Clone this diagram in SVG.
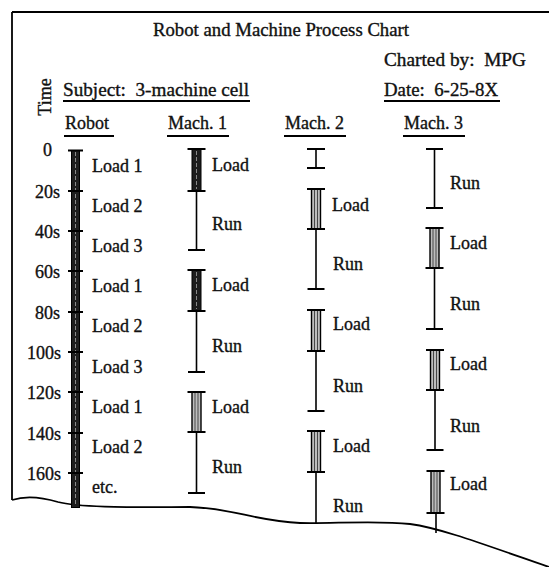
<svg xmlns="http://www.w3.org/2000/svg" width="549" height="567" viewBox="0 0 549 567">
<style>
.t{font-family:"Liberation Serif","Times New Roman",serif;font-size:18px;fill:#111;stroke:#111;stroke-width:0.35}
.ul{stroke:#000;stroke-width:2}
.frame{fill:none;stroke:#000;stroke-width:1.8}
.cap{stroke:#000;stroke-width:2}
.run{stroke:#000;stroke-width:1.6}
.dark{fill:#1e1e1e;stroke:#000;stroke-width:1}
.hat{fill:#bdbdbd;stroke:#000;stroke-width:1.4}
.hl{stroke:#3a3a3a;stroke-width:0.9}
.cl{stroke:#8a8a8a;stroke-width:1;stroke-dasharray:4 2}
</style>
<rect width="549" height="567" fill="#fff"/>
<g id="frame">
<line class="frame" x1="12" y1="12" x2="549" y2="12"/>
<line class="frame" x1="12" y1="12" x2="12" y2="500"/>
<path class="frame" stroke-width="2.2" d="M12,500 C24,496 38,496 58,502 C80,508 140,507 190,507 C232,508 255,521 300,523 C330,524 375,520 410,524 C440,528 480,543 549,567"/>
</g>
<g id="header">
<text class="t" x="153" y="36" font-size="19" textLength="256" lengthAdjust="spacingAndGlyphs">Robot and Machine Process Chart</text>
<text class="t" x="384" y="66" xml:space="preserve" textLength="142" lengthAdjust="spacingAndGlyphs">Charted by:  MPG</text>
<text class="t" x="63" y="96" xml:space="preserve" textLength="186" lengthAdjust="spacingAndGlyphs">Subject:  3-machine cell</text>
<line class="ul" x1="63" y1="101" x2="250" y2="101"/>
<text class="t" x="384" y="96" xml:space="preserve" textLength="114" lengthAdjust="spacingAndGlyphs">Date:  6-25-8X</text>
<line class="ul" x1="384" y1="101" x2="500" y2="101"/>
<text class="t" transform="translate(51,97) rotate(-90)" text-anchor="middle">Time</text>
<text class="t" x="65" y="129">Robot</text>
<line class="ul" x1="64" y1="136" x2="114" y2="136"/>
<text class="t" x="168" y="129">Mach. 1</text>
<line class="ul" x1="167" y1="136" x2="229" y2="136"/>
<text class="t" x="285" y="129">Mach. 2</text>
<line class="ul" x1="284" y1="136" x2="346" y2="136"/>
<text class="t" x="404" y="129">Mach. 3</text>
<line class="ul" x1="403" y1="136" x2="465" y2="136"/>
</g>
<g id="time-axis">
<text class="t" x="43" y="156">0</text>
<text class="t" x="60" y="197.5" text-anchor="end">20s</text>
<text class="t" x="60" y="237.5" text-anchor="end">40s</text>
<text class="t" x="60" y="277.5" text-anchor="end">60s</text>
<text class="t" x="60" y="318.5" text-anchor="end">80s</text>
<text class="t" x="61" y="358.5" text-anchor="end">100s</text>
<text class="t" x="61" y="398.5" text-anchor="end">120s</text>
<text class="t" x="61" y="439.5" text-anchor="end">140s</text>
<text class="t" x="61" y="479.5" text-anchor="end">160s</text>
</g>
<g id="robot">
<rect class="dark" x="71.5" y="150.5" width="8" height="357"/>
<line class="cl" x1="75.5" y1="152" x2="75.5" y2="506"/>
<line class="cap" x1="68" y1="150.5" x2="83" y2="150.5"/>
<line class="cap" x1="68" y1="191" x2="83" y2="191"/>
<line class="cap" x1="68" y1="231" x2="83" y2="231"/>
<line class="cap" x1="68" y1="271" x2="83" y2="271"/>
<line class="cap" x1="68" y1="312" x2="83" y2="312"/>
<line class="cap" x1="68" y1="352" x2="83" y2="352"/>
<line class="cap" x1="68" y1="392" x2="83" y2="392"/>
<line class="cap" x1="68" y1="433" x2="83" y2="433"/>
<line class="cap" x1="68" y1="473" x2="83" y2="473"/>
<text class="t" x="92" y="172">Load 1</text>
<text class="t" x="92" y="212">Load 2</text>
<text class="t" x="92" y="252">Load 3</text>
<text class="t" x="92" y="292">Load 1</text>
<text class="t" x="92" y="332">Load 2</text>
<text class="t" x="92" y="373">Load 3</text>
<text class="t" x="92" y="413">Load 1</text>
<text class="t" x="92" y="453">Load 2</text>
<text class="t" x="92" y="493">etc.</text>
</g>
<g id="mach1">
<rect class="dark" x="192" y="149" width="9" height="42"/>
<line class="cl" x1="196.5" y1="151" x2="196.5" y2="189"/>
<line class="cap" x1="187.5" y1="149" x2="205.5" y2="149"/>
<line class="cap" x1="187.5" y1="191" x2="205.5" y2="191"/>
<line class="run" x1="196.5" y1="191" x2="196.5" y2="250"/>
<line class="cap" x1="188" y1="250" x2="205" y2="250"/>
<rect class="dark" x="192" y="270" width="9" height="41"/>
<line class="cl" x1="196.5" y1="272" x2="196.5" y2="309"/>
<line class="cap" x1="187.5" y1="270" x2="205.5" y2="270"/>
<line class="cap" x1="187.5" y1="311" x2="205.5" y2="311"/>
<line class="run" x1="196.5" y1="311" x2="196.5" y2="372"/>
<line class="cap" x1="188" y1="372" x2="205" y2="372"/>
<rect class="hat" x="192" y="392" width="9" height="40"/>
<line class="hl" x1="195" y1="392" x2="195" y2="432"/>
<line class="hl" x1="198" y1="392" x2="198" y2="432"/>
<line class="cap" x1="187.5" y1="392" x2="205.5" y2="392"/>
<line class="cap" x1="187.5" y1="432" x2="205.5" y2="432"/>
<line class="run" x1="196.5" y1="432" x2="196.5" y2="493"/>
<line class="cap" x1="188" y1="493" x2="205" y2="493"/>
<text class="t" x="212" y="171">Load</text>
<text class="t" x="212" y="230">Run</text>
<text class="t" x="212" y="291">Load</text>
<text class="t" x="212" y="352">Run</text>
<text class="t" x="212" y="413">Load</text>
<text class="t" x="212" y="473">Run</text>
</g>
<g id="mach2">
<line class="cap" x1="307" y1="149" x2="325" y2="149"/>
<line class="run" x1="316" y1="149" x2="316" y2="168"/>
<line class="cap" x1="307" y1="168" x2="325" y2="168"/>
<rect class="hat" x="311.5" y="189" width="9" height="40"/>
<line class="hl" x1="314.5" y1="189" x2="314.5" y2="229"/>
<line class="hl" x1="317.5" y1="189" x2="317.5" y2="229"/>
<line class="cap" x1="307" y1="189" x2="325" y2="189"/>
<line class="cap" x1="307" y1="229" x2="325" y2="229"/>
<line class="run" x1="316" y1="229" x2="316" y2="289"/>
<line class="cap" x1="307.5" y1="289" x2="324.5" y2="289"/>
<rect class="hat" x="311.5" y="310" width="9" height="41"/>
<line class="hl" x1="314.5" y1="310" x2="314.5" y2="351"/>
<line class="hl" x1="317.5" y1="310" x2="317.5" y2="351"/>
<line class="cap" x1="307" y1="310" x2="325" y2="310"/>
<line class="cap" x1="307" y1="351" x2="325" y2="351"/>
<line class="run" x1="316" y1="351" x2="316" y2="411"/>
<line class="cap" x1="307.5" y1="411" x2="324.5" y2="411"/>
<rect class="hat" x="311.5" y="431" width="9" height="41"/>
<line class="hl" x1="314.5" y1="431" x2="314.5" y2="472"/>
<line class="hl" x1="317.5" y1="431" x2="317.5" y2="472"/>
<line class="cap" x1="307" y1="431" x2="325" y2="431"/>
<line class="cap" x1="307" y1="472" x2="325" y2="472"/>
<line class="run" x1="316" y1="472" x2="316" y2="523"/>
<text class="t" x="332" y="211">Load</text>
<text class="t" x="333" y="270">Run</text>
<text class="t" x="333" y="330">Load</text>
<text class="t" x="333" y="392">Run</text>
<text class="t" x="333" y="452">Load</text>
<text class="t" x="333" y="512">Run</text>
</g>
<g id="mach3">
<line class="cap" x1="426" y1="149" x2="443" y2="149"/>
<line class="run" x1="434.5" y1="149" x2="434.5" y2="208"/>
<line class="cap" x1="426" y1="208" x2="443" y2="208"/>
<rect class="hat" x="430" y="228" width="9" height="40"/>
<line class="hl" x1="433" y1="228" x2="433" y2="268"/>
<line class="hl" x1="436" y1="228" x2="436" y2="268"/>
<line class="cap" x1="425.5" y1="228" x2="443.5" y2="228"/>
<line class="cap" x1="425.5" y1="268" x2="443.5" y2="268"/>
<line class="run" x1="434.5" y1="268" x2="434.5" y2="329"/>
<line class="cap" x1="426" y1="329" x2="443" y2="329"/>
<rect class="hat" x="430.5" y="350" width="9" height="40"/>
<line class="hl" x1="433.5" y1="350" x2="433.5" y2="390"/>
<line class="hl" x1="436.5" y1="350" x2="436.5" y2="390"/>
<line class="cap" x1="426" y1="350" x2="444" y2="350"/>
<line class="cap" x1="426" y1="390" x2="444" y2="390"/>
<line class="run" x1="435" y1="390" x2="435" y2="450"/>
<line class="cap" x1="426.5" y1="450" x2="443.5" y2="450"/>
<rect class="hat" x="431" y="471" width="9" height="42"/>
<line class="hl" x1="434" y1="471" x2="434" y2="513"/>
<line class="hl" x1="437" y1="471" x2="437" y2="513"/>
<line class="cap" x1="426.5" y1="471" x2="444.5" y2="471"/>
<line class="cap" x1="426.5" y1="513" x2="444.5" y2="513"/>
<line class="run" x1="436" y1="513" x2="436" y2="533"/>
<text class="t" x="450" y="189">Run</text>
<text class="t" x="450" y="249">Load</text>
<text class="t" x="450" y="310">Run</text>
<text class="t" x="450" y="370">Load</text>
<text class="t" x="450" y="432">Run</text>
<text class="t" x="450" y="490">Load</text>
</g>
</svg>
